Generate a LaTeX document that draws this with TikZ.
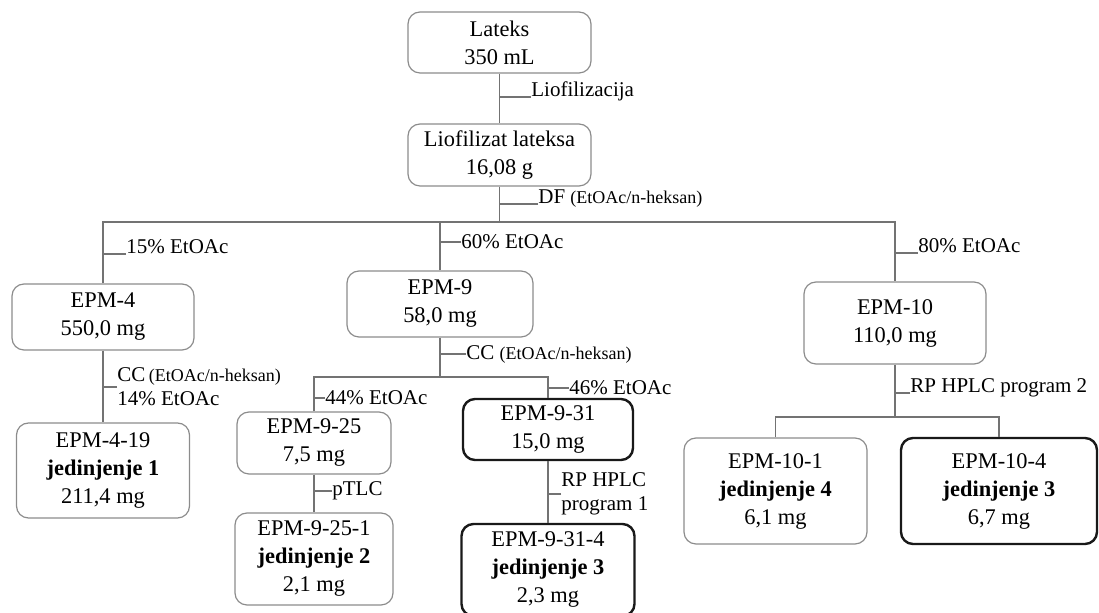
\documentclass[tikz,border=0pt]{standalone}
\usepackage{fontspec}
\setmainfont{Liberation Serif}
\newcommand{\solv}{{\fontsize{9}{10}\selectfont(EtOAc/n-heksan)}}

\begin{document}
\begin{tikzpicture}[x=0.5pt, y=-0.5pt,
  every node/.style={font=\fontsize{10.5}{12}\selectfont},
  box/.style={draw=black!45, line width=0.6pt, rounded corners=6pt, align=center, inner sep=0pt, font=\fontsize{11.2}{14}\selectfont},
  keybox/.style={box, draw=black!90, line width=1.2pt},
  lbl/.style={anchor=west, inner sep=0pt, align=left},
  lblb/.style={anchor=base west, inner sep=0pt},
  link/.style={draw=black!55, line width=0.6pt}]
  \useasboundingbox (0,0) rectangle (1099,613);

  \node[box, minimum width=91.5pt, minimum height=30.5pt] (lat) at (499.5,42.5) {Lateks\\350 mL};
  \node[box, minimum width=91.5pt, minimum height=31pt] (lio) at (499.5,155) {Liofilizat lateksa\\16,08 g};
  \node[box, minimum width=91pt, minimum height=33pt] (e4) at (103,317) {EPM-4\\550,0 mg};
  \node[box, minimum width=93pt, minimum height=33pt] (e9) at (440,304) {EPM-9\\58,0 mg};
  \node[box, minimum width=91pt, minimum height=41pt] (e10) at (895,323) {EPM-10\\110,0 mg};
  \node[box, minimum width=86.5pt, minimum height=47.5pt] (e419) at (103,470.5) {EPM-4-19\\\textbf{jedinjenje 1}\\211,4 mg};
  \node[box, minimum width=77pt, minimum height=31pt] (e925) at (314,443) {EPM-9-25\\7,5 mg};
  \node[keybox, minimum width=85pt, minimum height=30.5pt] (e931) at (548,429.5) {EPM-9-31\\15,0 mg};
  \node[box, minimum width=79pt, minimum height=46pt] (e9251) at (314,559) {EPM-9-25-1\\\textbf{jedinjenje 2}\\2,1 mg};
  \node[keybox, minimum width=86.5pt, minimum height=46pt] (e9314) at (548,570) {EPM-9-31-4\\\textbf{jedinjenje 3}\\2,3 mg};
  \node[box, minimum width=91.5pt, minimum height=53pt] (e101) at (775.5,491) {EPM-10-1\\\textbf{jedinjenje 4}\\6,1 mg};
  \node[keybox, minimum width=98pt, minimum height=53pt] (e104) at (999,491) {EPM-10-4\\\textbf{jedinjenje 3}\\6,7 mg};

  \coordinate (bar1) at (499.5,222);
  \coordinate (bar2) at (440,377);
  \coordinate (bar3) at (895,417);

  \draw[link] (lat) -- (lio);
  \draw[link] (lio) -- (bar1);
  \draw[link] (e4.north) |- (bar1) -| (e10.north);
  \draw[link] (e9) -- (e9 |- bar1);
  \draw[link] (e4) -- (e419);
  \draw[link] (e9) -- (bar2);
  \draw[link] (e925.north) |- (bar2) -| (e931.north);
  \draw[link] (e925) -- (e9251);
  \draw[link] (e931) -- (e9314);
  \draw[link] (e10) -- (bar3);
  \draw[link] (e101.north) |- (bar3) -| (e104.north);

  \node[lblb] (tliof) at (531,97) {Liofilizacija};
  \node[lblb] (tdf) at (538,204) {DF \solv};
  \node[lblb] (t15) at (126,254) {15\% EtOAc};
  \node[lbl] (t60) at (461,242) {60\% EtOAc};
  \node[lblb] (t80) at (918,253) {80\% EtOAc};
  \node[lbl] (tcc4) at (117,387) {CC\,\solv\\14\% EtOAc};
  \node[lbl] (tcc9) at (466,354) {CC \solv};
  \node[lbl] (t44) at (325,398) {44\% EtOAc};
  \node[lbl] (t46) at (569,388) {46\% EtOAc};
  \node[lbl] (tptlc) at (332,491) {pTLC};
  \node[lbl] (thp1) at (561,494) {RP HPLC\\program 1};
  \node[lblb] (thp2) at (910,393) {RP HPLC program 2};

  \draw[link] (tliof.base west) -- (tliof.base west -| lat.south);
  \draw[link] (tdf.base west) -- (tdf.base west -| lio.south);
  \draw[link] (t15.base west) -- (t15.base west -| e4.north);
  \draw[link] (t60.west) -- (t60.west -| e9.north);
  \draw[link] (t80.base west) -- (t80.base west -| e10.north);
  \draw[link] (tcc4.west) -- (tcc4.west -| e4.south);
  \draw[link] (tcc9.west) -- (tcc9.west -| e9.south);
  \draw[link] (t44.west) -- (t44.west -| e925.north);
  \draw[link] (t46.west) -- (t46.west -| e931.north);
  \draw[link] (tptlc.west) -- (tptlc.west -| e925.south);
  \draw[link] (thp1.west) -- (thp1.west -| e931.south);
  \draw[link] (thp2.base west) -- (thp2.base west -| e10.south);
\end{tikzpicture}
\end{document}
